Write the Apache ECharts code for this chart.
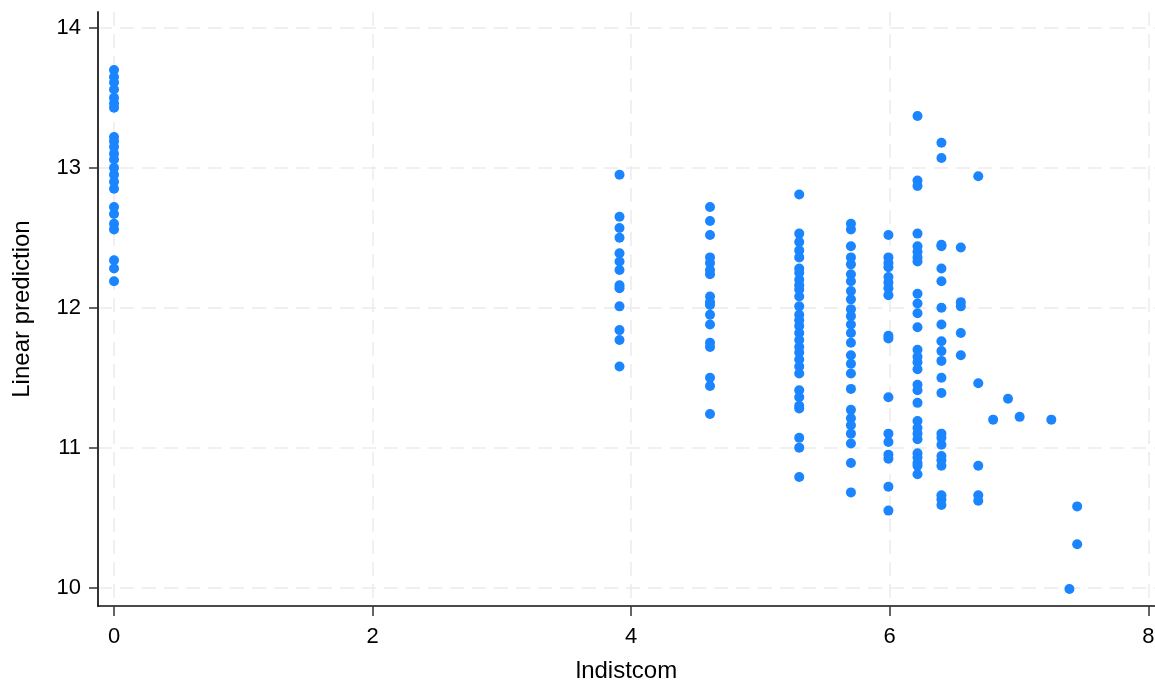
<!DOCTYPE html>
<html>
<head>
<meta charset="utf-8">
<script src="https://cdn.jsdelivr.net/npm/echarts@6/dist/echarts.min.js"></script>
<style>
html,body{margin:0;padding:0;background:#fff;}
#chart{width:1155px;height:682px;}
</style>
</head>
<body>
<div id="chart"></div>
<script>
// x levels (lndistcom) and linear predictions per level
const xLevels = [0, 3.91, 4.61, 5.30, 5.70, 5.99, 6.215, 6.40, 6.55, 6.685, 6.80, 6.915, 7.005, 7.25, 7.39, 7.45];
const pred0 = [13.70, 13.65, 13.61, 13.56, 13.50, 13.46, 13.43, 13.22, 13.19, 13.15, 13.10, 13.06, 13.00, 12.95, 12.90, 12.85, 12.72, 12.67, 12.60, 12.56, 12.34, 12.28, 12.19];
const pred391 = [12.95, 12.65, 12.57, 12.50, 12.39, 12.33, 12.27, 12.16, 12.14, 12.01, 11.84, 11.77, 11.58];
const pred461 = [12.72, 12.62, 12.52, 12.36, 12.32, 12.27, 12.24, 12.08, 12.04, 12.02, 11.95, 11.88, 11.75, 11.72, 11.50, 11.44, 11.24];
const pred530 = [12.81, 12.53, 12.47, 12.41, 12.36, 12.28, 12.25, 12.20, 12.16, 12.13, 12.08, 12.01, 11.95, 11.91, 11.87, 11.82, 11.77, 11.72, 11.68, 11.63, 11.58, 11.53, 11.41, 11.36, 11.30, 11.28, 11.07, 11.00, 10.79];
const pred570 = [12.60, 12.56, 12.44, 12.36, 12.31, 12.24, 12.19, 12.12, 12.06, 11.99, 11.94, 11.88, 11.82, 11.75, 11.66, 11.60, 11.53, 11.42, 11.27, 11.21, 11.16, 11.10, 11.03, 10.89, 10.68];
const pred599 = [12.52, 12.36, 12.32, 12.29, 12.22, 12.18, 12.14, 12.09, 11.80, 11.78, 11.36, 11.10, 11.04, 10.95, 10.92, 10.72, 10.55];
const pred621 = [13.37, 12.91, 12.87, 12.53, 12.44, 12.40, 12.36, 12.33, 12.10, 12.03, 11.96, 11.86, 11.70, 11.65, 11.61, 11.56, 11.45, 11.41, 11.32, 11.19, 11.14, 11.10, 11.06, 10.96, 10.93, 10.89, 10.87, 10.81];
const pred640 = [13.18, 13.07, 12.45, 12.44, 12.28, 12.19, 12.00, 11.88, 11.76, 11.69, 11.62, 11.50, 11.39, 11.10, 11.07, 11.02, 10.94, 10.91, 10.87, 10.66, 10.63, 10.59];
const pred655 = [12.43, 12.04, 12.01, 11.82, 11.66];
const pred668 = [12.94, 11.46, 10.87, 10.66, 10.62];
const pred680 = [11.20];
const pred691 = [11.35];
const pred700 = [11.22];
const pred725 = [11.20];
const pred739 = [9.99];
const pred745 = [10.58, 10.31];
const predColumns = [pred0, pred391, pred461, pred530, pred570, pred599, pred621, pred640, pred655, pred668, pred680, pred691, pred700, pred725, pred739, pred745];
const xTicks = [0, 2, 4, 6, 8];
const yTicks = [10, 11, 12, 13, 14];

const points = [];
predColumns.forEach((col, i) => col.forEach(v => points.push([xLevels[i], v])));

const chart = echarts.init(document.getElementById('chart'), null, {renderer: 'canvas'});
const font = 'Liberation Sans, Arial, Helvetica, sans-serif';
const gridLine = {show: true, lineStyle: {color: '#ebebeb', width: 1.5, type: [14, 8]}};
chart.setOption({
  animation: false,
  grid: {left: 98, right: 0, top: 12, bottom: 76, containLabel: false, outerBoundsMode: 'none'},
  xAxis: {
    type: 'value', min: -0.124, max: 8.052,
    name: 'lndistcom', nameLocation: 'middle', nameGap: 53,
    nameTextStyle: {fontFamily: font, fontSize: 24, color: '#000'},
    axisLine: {show: true, onZero: false, lineStyle: {color: '#111', width: 1.5}},
    axisTick: {show: true, length: 10, customValues: xTicks, lineStyle: {color: '#333', width: 1.5}},
    axisLabel: {customValues: xTicks, margin: 20, fontFamily: font, fontSize: 22, color: '#000'},
    splitLine: gridLine
  },
  yAxis: {
    type: 'value', min: 9.868, max: 14.114,
    name: 'Linear prediction', nameLocation: 'middle', nameGap: 64, nameRotate: 90,
    nameTextStyle: {fontFamily: font, fontSize: 24, color: '#000'},
    axisLine: {show: true, onZero: false, lineStyle: {color: '#333', width: 2}},
    axisTick: {show: true, length: 9, customValues: yTicks, lineStyle: {color: '#333', width: 1.5}},
    axisLabel: {customValues: yTicks, margin: 17, fontFamily: font, fontSize: 22, color: '#000'},
    splitLine: gridLine
  },
  series: [{
    type: 'scatter',
    data: points,
    symbol: 'circle',
    symbolSize: 10,
    itemStyle: {color: '#1a85ff', opacity: 1}
  }]
});
</script>
</body>
</html>
